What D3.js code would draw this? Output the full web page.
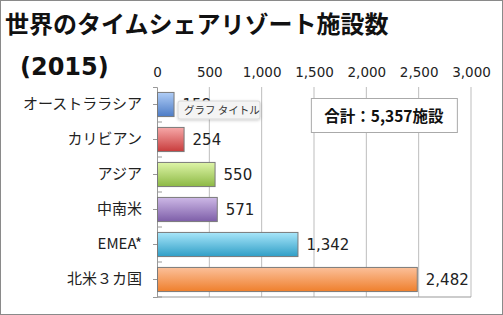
<!DOCTYPE html>
<html>
<head>
<meta charset="utf-8">
<script src="https://cdn.jsdelivr.net/npm/d3@7"></script>
<style>
  body { margin: 0; background: #fff; }
  svg { font-family: "Noto Sans CJK JP", "Noto Sans", sans-serif; }
</style>
</head>
<body>
<div id="chart"></div>
<script>
// data
const regions = ["オーストララシア", "カリビアン", "アジア", "中南米", "EMEA*", "北米３カ国"];
const counts = [158, 254, 550, 571, 1342, 2482];
const xTicks = [0, 500, 1000, 1500, 2000, 2500, 3000];
const barColors = [
  ["#b0cdf6", "#4d7cc6"],
  ["#f6a8a8", "#c83c3c"],
  ["#def5a8", "#8cb844"],
  ["#cdb8e6", "#7d5ea8"],
  ["#a8e6fa", "#2f9ec6"],
  ["#fbc09a", "#ef7f2c"]
];
const totalLabel = "合計：5,357施設";

const W = 503, H = 315;
const margin = { top: 87, right: 32, bottom: 18, left: 157 };
const width = W - margin.left - margin.right,
  height = H - margin.top - margin.bottom;
const numFont = "DejaVu Sans, sans-serif";

const svg = d3.select("#chart").append("svg")
  .attr("width", W).attr("height", H);

// gradients for bars
const defs = svg.append("defs");
barColors.forEach((c, i) => {
  const g = defs.append("linearGradient")
    .attr("id", "grad" + i)
    .attr("x1", 0).attr("y1", 0).attr("x2", 0).attr("y2", 1);
  g.append("stop").attr("offset", "0%").attr("stop-color", c[0]);
  g.append("stop").attr("offset", "100%").attr("stop-color", c[1]);
});
const shadow = defs.append("filter").attr("id", "shadow")
  .attr("x", "-20%").attr("y", "-40%").attr("width", "140%").attr("height", "200%");
shadow.append("feDropShadow").attr("dx", 0).attr("dy", 1).attr("stdDeviation", 1.5)
  .attr("flood-color", "#000").attr("flood-opacity", 0.2);

// outer border
svg.append("rect")
  .attr("x", 0.5).attr("y", 0.5)
  .attr("width", W - 1).attr("height", H - 1)
  .attr("fill", "none").attr("stroke", "#8a8a8a");

// title
svg.append("text")
  .attr("x", 5).attr("y", 33)
  .attr("font-size", 24).attr("font-weight", "bold").attr("fill", "#111")
  .text("世界のタイムシェアリゾート施設数");
svg.append("text")
  .attr("x", 20).attr("y", 75)
  .attr("font-size", 24).attr("font-weight", "bold").attr("fill", "#111")
  .style("font-family", numFont)
  .text("(2015)");

const g = svg.append("g")
  .attr("transform", `translate(${margin.left},${margin.top})`);

const x = d3.scaleLinear().domain([0, 3000]).range([0, width]);
const y = d3.scaleBand().domain(regions).range([0, height]).paddingInner(0.31).paddingOuter(0.155);
const yb = d3.scaleBand().domain(regions).range([0, height]);

// grid
g.append("g")
  .selectAll("line")
  .data(xTicks.slice(1))
  .join("line")
  .attr("x1", d => x(d)).attr("x2", d => x(d))
  .attr("y1", 0).attr("y2", height)
  .attr("stroke", "#bdbdbd");

// top axis
const xAxis = g.append("g")
  .call(d3.axisTop(x).tickValues(xTicks).tickSize(0).tickPadding(10)
    .tickFormat(d3.format(",")));
xAxis.select(".domain").remove();
xAxis.selectAll("text")
  .attr("fill", "#222")
  .style("font-size", "13.5px")
  .style("font-family", numFont);

// bottom axis line
g.append("line")
  .attr("x1", 0).attr("x2", width)
  .attr("y1", height).attr("y2", height)
  .attr("stroke", "#999");

// left axis
const yAxis = g.append("g")
  .call(d3.axisLeft(yb).tickSize(4).tickPadding(11));
yAxis.select(".domain").attr("stroke", "#999");
yAxis.selectAll(".tick line").attr("stroke", "#999");
yAxis.selectAll("text")
  .attr("fill", "#222")
  .style("font-size", "15px")
  .style("font-family", "Noto Sans CJK JP, sans-serif");

// boundary ticks to the right
g.append("g")
  .selectAll("line")
  .data(regions)
  .join("line")
  .attr("x1", 0).attr("x2", 5)
  .attr("y1", d => yb(d) + yb.bandwidth()).attr("y2", d => yb(d) + yb.bandwidth())
  .attr("stroke", "#999");

// bars
g.append("g")
  .selectAll("rect")
  .data(regions)
  .join("rect")
  .attr("x", 0.5)
  .attr("y", d => y(d))
  .attr("width", (d, i) => x(counts[i]))
  .attr("height", y.bandwidth())
  .attr("fill", (d, i) => `url(#grad${i})`)
  .attr("stroke", "#7a7a7a")
  .attr("stroke-width", 1);

// value labels
g.append("g")
  .selectAll("text")
  .data(regions)
  .join("text")
  .attr("x", (d, i) => x(counts[i]) + 9)
  .attr("y", d => y(d) + y.bandwidth() / 2)
  .attr("dy", "0.36em")
  .attr("font-size", 15).attr("fill", "#222")
  .style("font-family", numFont)
  .text((d, i) => d3.format(",")(counts[i]));

// total box
const tb = g.append("g").attr("transform", `translate(${x(1470)},${11})`);
tb.append("rect")
  .attr("x", 0.5).attr("y", 0.5)
  .attr("width", 146).attr("height", 34)
  .attr("fill", "#fff").attr("stroke", "#aaa");
tb.append("text")
  .attr("x", 73).attr("y", 18).attr("dy", "0.36em")
  .attr("text-anchor", "middle")
  .attr("font-size", 15.5).attr("font-weight", "bold").attr("fill", "#111")
  .text(totalLabel);

// tooltip overlay
const tip = svg.append("g").attr("transform", "translate(178,101)");
tip.append("rect")
  .attr("width", 82).attr("height", 18).attr("rx", 2)
  .attr("fill", "#f4f4f4").attr("stroke", "#d8d8d8")
  .attr("filter", "url(#shadow)");
tip.append("text")
  .attr("x", 6).attr("y", 9).attr("dy", "0.36em")
  .attr("font-size", 10.5).attr("fill", "#333")
  .text("グラフ タイトル");
</script>
</body>
</html>
